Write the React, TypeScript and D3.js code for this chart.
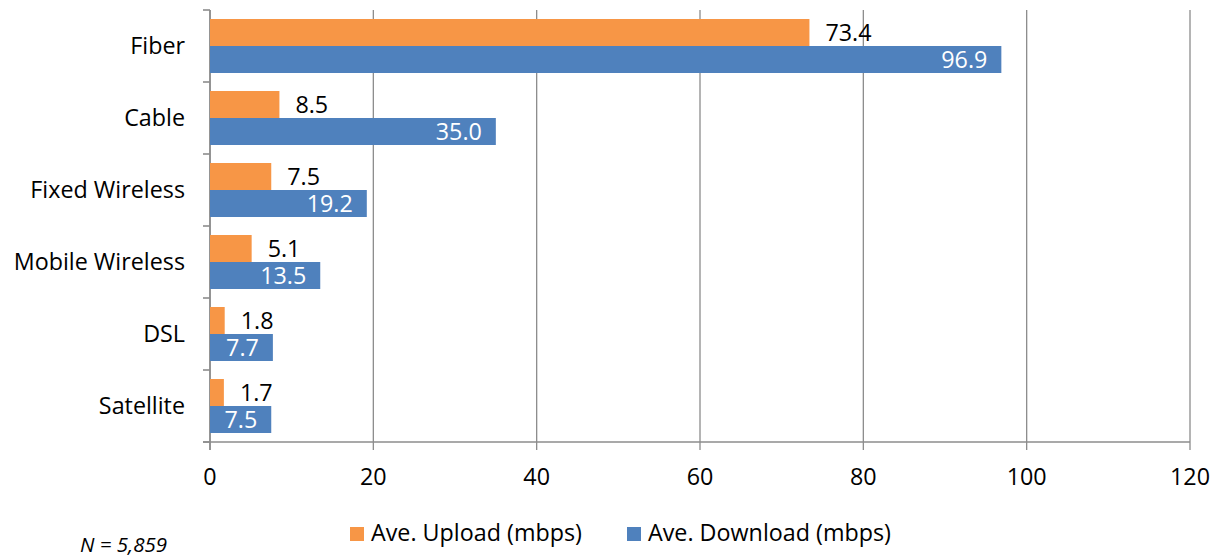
import * as d3 from 'd3'

const categories = ['Fiber', 'Cable', 'Fixed Wireless', 'Mobile Wireless', 'DSL', 'Satellite']
const uploadValues = [73.4, 8.5, 7.5, 5.1, 1.8, 1.7]
const downloadValues = [96.9, 35.0, 19.2, 13.5, 7.7, 7.5]
const xTicks = [0, 20, 40, 60, 80, 100, 120]
const seriesNames = ['Ave. Upload (mbps)', 'Ave. Download (mbps)']
const note = 'N = 5,859'

const W = 1219
const H = 556
const FONT = '"Open Sans", sans-serif'
const FS = 23.3
const ORANGE = '#F79646'
const BLUE = '#4F81BD'
const GRID = '#8c8c8c'

export default function App() {
  const x = d3.scaleLinear().domain([0, 120]).range([210, 1190])
  const y = d3.scaleBand<string>().domain(categories).range([10, 442]).paddingInner(0.25).paddingOuter(0.125)
  const bw = y.bandwidth() / 2
  const bounds = [10, ...categories.map((c) => (y(c) as number) + y.bandwidth() + y.step() * 0.125)]

  return (
    <svg width={W} height={H} style={{ position: 'absolute', left: 0, top: 0, background: '#fff' }} fontFamily={FONT}>
      {/* grid */}
      {xTicks.map((t) => (
        <line key={'g' + t} x1={x(t)} x2={x(t)} y1={10} y2={450} stroke={GRID} strokeWidth={1.3} />
      ))}
      {/* y axis */}
      <line x1={x(0)} x2={x(0)} y1={10} y2={450} stroke={GRID} strokeWidth={1.6} />
      {bounds.map((b, i) => (
        <line key={'yt' + i} x1={203} x2={x(0)} y1={b} y2={b} stroke={GRID} strokeWidth={1.6} />
      ))}
      {/* x axis */}
      <line x1={203} x2={x(120)} y1={442} y2={442} stroke={GRID} strokeWidth={1.6} />
      {xTicks.map((t) => (
        <text key={'xl' + t} x={x(t)} y={485} textAnchor="middle" fontSize={FS} fill="#000">
          {t}
        </text>
      ))}
      {/* bars */}
      {categories.map((c, i) => {
        const y0 = y(c) as number
        return (
          <g key={c}>
            <rect x={x(0)} y={y0} width={x(uploadValues[i]) - x(0)} height={bw} fill={ORANGE} />
            <rect x={x(0)} y={y0 + bw} width={x(downloadValues[i]) - x(0)} height={bw} fill={BLUE} />
            <text x={x(uploadValues[i]) + 16} y={y0 + bw / 2} dy="0.38em" fontSize={FS} fill="#000">
              {uploadValues[i].toFixed(1)}
            </text>
            <text x={x(downloadValues[i]) - 14} y={y0 + bw * 1.5} dy="0.38em" fontSize={FS} fill="#fff" textAnchor="end">
              {downloadValues[i].toFixed(1)}
            </text>
            <text x={185} y={y0 + bw} dy="0.33em" fontSize={FS} fill="#000" textAnchor="end">
              {c}
            </text>
          </g>
        )
      })}
      {/* legend */}
      <rect x={350} y={527} width={14} height={14} fill={ORANGE} />
      <text x={371} y={541} fontSize={FS} fill="#000">{seriesNames[0]}</text>
      <rect x={627} y={527} width={14} height={14} fill={BLUE} />
      <text x={648} y={541} fontSize={FS} fill="#000">{seriesNames[1]}</text>
      <text x={80} y={552} fontSize={20.5} fontStyle="italic" fill="#000">{note}</text>
    </svg>
  )
}
